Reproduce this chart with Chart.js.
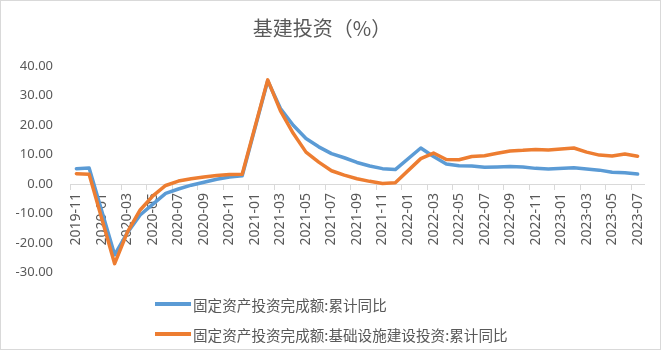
<!DOCTYPE html>
<html><head><meta charset="utf-8">
<script src="https://cdn.jsdelivr.net/npm/chart.js@4.4.0/dist/chart.umd.min.js"></script>
<style>
html,body{margin:0;padding:0;background:#fff;}
#wrap{position:relative;width:664px;height:352px;overflow:hidden;background:#fff;}
#frame{position:absolute;left:0;top:0;width:661px;height:350px;border:1px solid #d9d9d9;box-sizing:border-box;pointer-events:none;}
canvas{position:absolute;left:0;top:0;}
.lg{position:absolute;left:155px;height:20px;display:flex;align-items:center;font:14.6px "Noto Sans CJK SC";color:#595959;white-space:nowrap;}
.lg i{display:inline-block;width:36px;height:3.5px;margin-right:2px;}
</style></head>
<body><div id="wrap"><canvas id="c" width="664" height="352"></canvas><div id="frame"></div></div>
<script>
const chartTitle = '基建投资（%）';
const categories = [
  '2019-11','2019-12',
  '2020-01','2020-02','2020-03','2020-04','2020-05','2020-06','2020-07','2020-08','2020-09','2020-10','2020-11','2020-12',
  '2021-01','2021-02','2021-03','2021-04','2021-05','2021-06','2021-07','2021-08','2021-09','2021-10','2021-11','2021-12',
  '2022-01','2022-02','2022-03','2022-04','2022-05','2022-06','2022-07','2022-08','2022-09','2022-10','2022-11','2022-12',
  '2023-01','2023-02','2023-03','2023-04','2023-05','2023-06','2023-07'
];
const seriesNames = ['固定资产投资完成额:累计同比', '固定资产投资完成额:基础设施建设投资:累计同比'];
const seriesColors = ['#5B9BD5', '#ED7D31'];
const fixedAssetYoY = [
  5.2, 5.4,
  null, -24.0, -16.5, -10.5, -6.8, -3.2, -1.7, -0.4, 0.6, 1.6, 2.4, 2.8,
  null, 35.0, 25.6, 19.9, 15.4, 12.6, 10.3, 8.9, 7.3, 6.1, 5.2, 4.9,
  null, 12.2, 9.3, 6.8, 6.2, 6.1, 5.7, 5.8, 5.9, 5.8, 5.3, 5.1,
  null, 5.5, 5.1, 4.7, 4.0, 3.8, 3.4
];
const infraYoY = [
  3.5, 3.3,
  null, -27.0, -16.3, -8.8, -4.0, -0.5, 1.0, 1.8, 2.4, 2.9, 3.2, 3.3,
  null, 35.3, 24.8, 17.2, 10.8, 7.4, 4.5, 3.0, 1.8, 0.9, 0.2, 0.4,
  null, 8.6, 10.5, 8.3, 8.2, 9.3, 9.6, 10.4, 11.2, 11.4, 11.7, 11.5,
  null, 12.2, 10.8, 9.8, 9.5, 10.2, 9.4
];
const yTickValues = [-30, -20, -10, 0, 10, 20, 30, 40];

const wrap = document.getElementById('wrap');
seriesNames.forEach((name, k) => {
  const d = document.createElement('div');
  d.className = 'lg';
  d.style.top = (294 + 30 * k) + 'px';
  const sw = document.createElement('i');
  sw.style.background = seriesColors[k];
  d.appendChild(sw);
  d.appendChild(document.createTextNode(name));
  wrap.appendChild(d);
});

const tickFont = {family: '"Noto Sans", "Liberation Sans", sans-serif', size: 14};
new Chart(document.getElementById('c').getContext('2d'), {
  type: 'line',
  data: {
    labels: categories,
    datasets: [
      {label: seriesNames[0], data: fixedAssetYoY, borderColor: seriesColors[0], backgroundColor: seriesColors[0],
       borderWidth: 3.5, pointRadius: 0, spanGaps: true, tension: 0, order: 1, borderJoinStyle: 'round', borderCapStyle: 'round'},
      {label: seriesNames[1], data: infraYoY, borderColor: seriesColors[1], backgroundColor: seriesColors[1],
       borderWidth: 3.5, pointRadius: 0, spanGaps: true, tension: 0, order: 0, borderJoinStyle: 'round', borderCapStyle: 'round'}
    ]
  },
  options: {
    responsive: false, animation: false, devicePixelRatio: 1,
    layout: {padding: {left: 0, right: 20, top: 0, bottom: 79.5}},
    plugins: {
      legend: {display: false},
      tooltip: {enabled: false},
      title: {display: true, text: chartTitle, color: '#595959',
        font: {family: '"Noto Sans CJK SC"', size: 20, weight: 'normal'},
        padding: {top: 16, bottom: 26}}
    },
    scales: {
      x: {
        position: {y: 0}, offset: true,
        grid: {display: true, drawOnChartArea: false, drawTicks: true, tickLength: 5, offset: true,
          color: (c) => (c.index % 2 === 0 ? '#d9d9d9' : 'rgba(0,0,0,0)')},
        border: {display: true, color: '#d9d9d9', width: 1},
        ticks: {autoSkip: false, maxRotation: 90, minRotation: 90, padding: 4, color: '#595959', font: tickFont,
          callback: (v, i) => (i % 2 === 0 ? categories[i] : '')},
        afterFit: (s) => { s.height = 0; }
      },
      y: {
        min: yTickValues[0], max: yTickValues[yTickValues.length - 1],
        ticks: {stepSize: 10, padding: 17, color: '#595959', font: {family: '"Noto Sans", "Liberation Sans", sans-serif', size: 13},
          callback: (v) => Number(v).toFixed(2)},
        grid: {display: false, drawTicks: false},
        border: {display: false},
        afterFit: (s) => { s.width = 70; }
      }
    }
  }
});
</script>
</body></html>
